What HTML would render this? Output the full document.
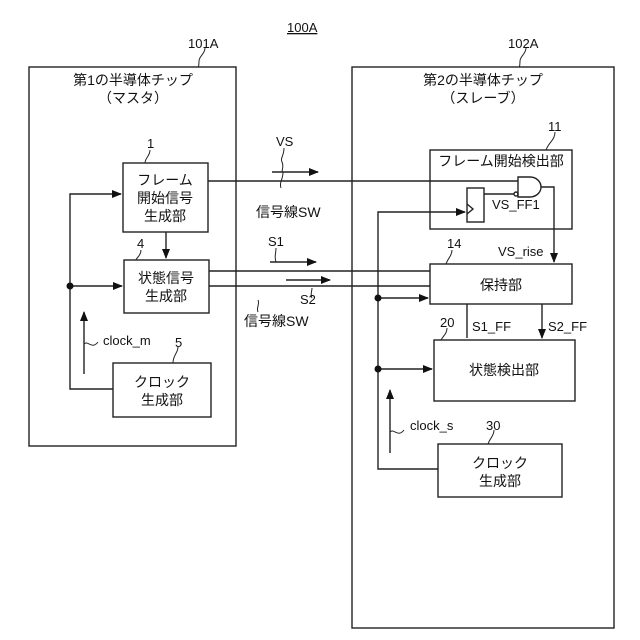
<!DOCTYPE html>
<html><head><meta charset="utf-8"><style>
body{margin:0;background:#fff}
svg{display:block}
text{font-family:"Liberation Sans","Noto Sans CJK JP",sans-serif;font-size:13px;fill:#111}
.c{text-anchor:middle}
.b{font-size:14px}
</style></head><body>
<svg width="640" height="640" viewBox="0 0 640 640" xmlns="http://www.w3.org/2000/svg">
<defs><marker id="a" markerWidth="10" markerHeight="8" refX="9" refY="4" orient="auto" markerUnits="userSpaceOnUse"><path d="M0,0L10,4L0,8z" fill="#111"/></marker></defs>
<g fill="none" stroke="#222" stroke-width="1.4">
<rect x="29" y="67" width="207" height="379"/>
<rect x="352" y="67" width="262" height="561"/>
<rect x="123" y="163" width="85" height="69"/>
<rect x="124" y="260" width="85" height="53"/>
<rect x="113" y="363" width="98" height="54"/>
<rect x="430" y="150" width="142" height="79"/>
<rect x="430" y="264" width="142" height="40"/>
<rect x="434" y="340" width="141" height="61"/>
<rect x="438" y="444" width="124" height="53"/>
<rect x="467" y="188" width="17" height="34"/>
<path d="M467,214L473,209L467,204"/>
<path d="M518,177H530A11,10 0 0 1 530,197H518Z"/>
<circle cx="516" cy="194" r="2"/>
<path d="M208,181H518"/>
<path d="M484,194H514"/>
<path d="M541,187H554V262" marker-end="url(#a)"/>
<path d="M166,232V258" marker-end="url(#a)"/>
<path d="M209,271H430M209,286H430"/>
<path d="M113,389H70V194H121" marker-end="url(#a)"/>
<path d="M70,286H122" marker-end="url(#a)"/>
<path d="M84,374V312" marker-end="url(#a)"/>
<path d="M438,469H378V212H465" marker-end="url(#a)"/>
<path d="M378,298H428" marker-end="url(#a)"/>
<path d="M378,369H432" marker-end="url(#a)"/>
<path d="M390,453V390" marker-end="url(#a)"/>
<path d="M467,304V338M542,304V338" marker-end="url(#a)"/>
<path d="M272,172H318" marker-end="url(#a)"/>
<path d="M270,262H316" marker-end="url(#a)"/>
<path d="M286,280H330" marker-end="url(#a)"/>
</g>
<g fill="#111"><circle cx="70" cy="286" r="3.5"/><circle cx="378" cy="298" r="3.5"/><circle cx="378" cy="369" r="3.5"/></g>
<g fill="none" stroke="#222" stroke-width="1">
<path d="M205,48c0,6 -6,8 -6,13s-1,6 0,6"/>
<path d="M526,48c0,6 -6,8 -6,13s-1,6 0,6"/>
<path d="M284,148c0,8 -4,10 -2,14s0,8 0,10"/>
<path d="M283,172c0,8 -4,10 -2,16"/>
<path d="M276,248c0,6 -2,8 0,14"/>
<path d="M312,288c0,4 -2,6 0,10"/>
<path d="M258,312c-2,-4 2,-8 0,-12"/>
<path d="M150,150c0,6 -5,8 -5,13"/>
<path d="M141,250c0,6 -5,8 -5,10"/>
<path d="M178,347c0,6 -5,8 -5,16"/>
<path d="M555,132c0,8 -6,10 -9,18"/>
<path d="M452,250c0,6 -4,8 -6,14"/>
<path d="M447,328c0,6 -4,8 -6,12"/>
<path d="M494,430c0,6 -4,8 -6,14"/>
<path d="M84,344c4,-4 8,6 14,-2"/>
<path d="M390,432c4,-4 8,6 14,-2"/>
</g>
<text x="287" y="32" style="text-decoration:underline">100A</text>
<text x="188" y="48">101A</text>
<text x="508" y="48">102A</text>
<text x="133" y="85" class="c b">第1の半導体チップ</text>
<text x="133" y="103" class="c b">（マスタ）</text>
<text x="483" y="85" class="c b">第2の半導体チップ</text>
<text x="483" y="103" class="c b">（スレーブ）</text>
<text x="147" y="148">1</text>
<text x="137" y="248">4</text>
<text x="175" y="347">5</text>
<text x="165" y="185" class="c b">フレーム</text>
<text x="165" y="203" class="c b">開始信号</text>
<text x="165" y="221" class="c b">生成部</text>
<text x="166" y="283" class="c b">状態信号</text>
<text x="166" y="301" class="c b">生成部</text>
<text x="162" y="387" class="c b">クロック</text>
<text x="162" y="405" class="c b">生成部</text>
<text x="103" y="345">clock_m</text>
<text x="276" y="146">VS</text>
<text x="256" y="217" class="b">信号線SW</text>
<text x="268" y="246">S1</text>
<text x="300" y="304">S2</text>
<text x="244" y="326" class="b">信号線SW</text>
<text x="548" y="131">11</text>
<text x="501" y="166" class="c b">フレーム開始検出部</text>
<text x="492" y="209">VS_FF1</text>
<text x="447" y="248">14</text>
<text x="498" y="256">VS_rise</text>
<text x="501" y="290" class="c b">保持部</text>
<text x="440" y="327">20</text>
<text x="472" y="331">S1_FF</text>
<text x="548" y="331">S2_FF</text>
<text x="504" y="375" class="c b">状態検出部</text>
<text x="410" y="430">clock_s</text>
<text x="486" y="430">30</text>
<text x="500" y="468" class="c b">クロック</text>
<text x="500" y="486" class="c b">生成部</text>
</svg>
</body></html>
